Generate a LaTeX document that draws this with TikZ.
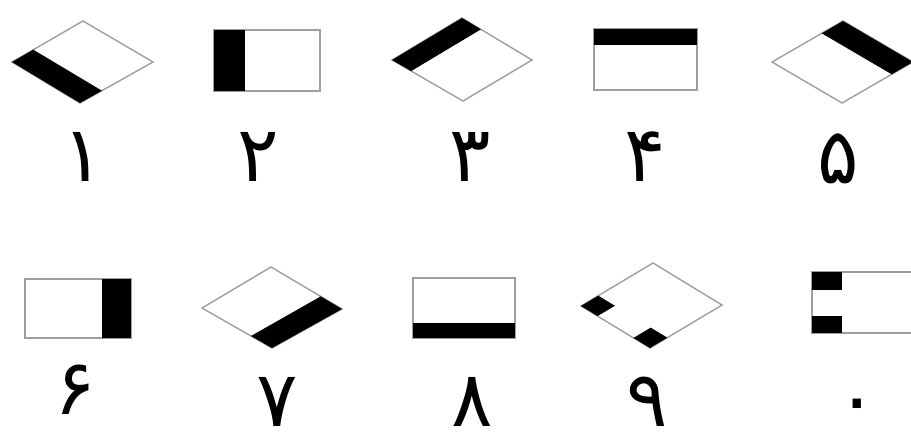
\documentclass[tikz,border=0pt]{standalone}
\usepackage{fontspec}
\newfontfamily\digitfont[Script=Arabic]{DejaVu Sans}
\TeXXeTstate=1
\usetikzlibrary{calc}

\begin{document}
\begin{tikzpicture}[
x=0.02cm,
y=-0.02cm,
frame/.style={
  draw=gray!75,
  line width=0.8pt,
  fill=white
},
band/.style={fill=black},
digit/.style={
  font=\digitfont\fontsize{44}{44}\selectfont,
  inner sep=0pt,
  text depth=0pt,
  anchor=base
}
]
\clip (0,0) rectangle (911,436);

% first row
\coordinate (d1l) at (12,62);  \coordinate (d1t) at (83,21);
\coordinate (d1r) at (153,62); \coordinate (d1b) at (80,103);
\draw[frame] (d1l)--(d1t)--(d1r)--(d1b)--cycle;
\fill[band] (d1l)--(d1b)--($(d1b)!0.3!(d1r)$)--($(d1l)!0.3!(d1t)$)--cycle;

\draw[frame] (214,30) rectangle (320,91);
\fill[band] (214,30) rectangle (245,91);

\coordinate (d3l) at (392,60);  \coordinate (d3t) at (462,18);
\coordinate (d3r) at (532,60);  \coordinate (d3b) at (463,101);
\draw[frame] (d3l)--(d3t)--(d3r)--(d3b)--cycle;
\fill[band] (d3l)--(d3t)--($(d3t)!0.27!(d3r)$)--($(d3l)!0.27!(d3b)$)--cycle;

\draw[frame] (594,29) rectangle (697,90);
\fill[band] (594,29) rectangle (697,45);

\coordinate (d5l) at (772,62);  \coordinate (d5t) at (843,21);
\coordinate (d5r) at (913,62);  \coordinate (d5b) at (842,103);
\draw[frame] (d5l)--(d5t)--(d5r)--(d5b)--cycle;
\fill[band] (d5t)--(d5r)--($(d5r)!0.3!(d5b)$)--($(d5t)!0.3!(d5l)$)--cycle;

\node[digit] (n1) at (83,181) {۱};
\node[digit] (n2) at (258,181) {۲};
\node[digit] (n3) at (470,181) {۳};
\node[digit] (n4) at (645,181) {۴};
\node[digit] (n5) at (838,183) {۵};

% second row
\draw[frame] (25,279) rectangle (131,338);
\fill[band] (102,279) rectangle (131,338);

\coordinate (d7l) at (202,308); \coordinate (d7t) at (271,267);
\coordinate (d7r) at (342,309); \coordinate (d7b) at (272,348);
\draw[frame] (d7l)--(d7t)--(d7r)--(d7b)--cycle;
\fill[band] (d7b)--(d7r)--($(d7r)!0.3!(d7t)$)--($(d7b)!0.3!(d7l)$)--cycle;

\draw[frame] (413,278) rectangle (515,338);
\fill[band] (413,323) rectangle (515,338);

\coordinate (d9l) at (581,306); \coordinate (d9t) at (653,263);
\coordinate (d9r) at (722,305); \coordinate (d9b) at (650,348);
\draw[frame] (d9l)--(d9t)--(d9r)--(d9b)--cycle;
\fill[band] (d9l)--($(d9l)!0.24!(d9t)$)--++(16.6,10.1)--($(d9l)!0.24!(d9b)$)--cycle;
\fill[band] (d9b)--($(d9b)!0.24!(d9l)$)--++(17.3,-10.3)--($(d9b)!0.24!(d9r)$)--cycle;

\draw[frame] (812,272) rectangle (925,333);
\fill[band] (812,272) rectangle (842,290);
\fill[band] (812,316) rectangle (842,333);

\node[digit] (n6) at (75,414) {۶};
\node[digit] (n7) at (277,426) {۷};
\node[digit] (n8) at (472,426) {۸};
\node[digit] (n9) at (647,426) {۹};
\node[digit,anchor=center] (n0) at (857,412) {۰};
\end{tikzpicture}
\end{document}
